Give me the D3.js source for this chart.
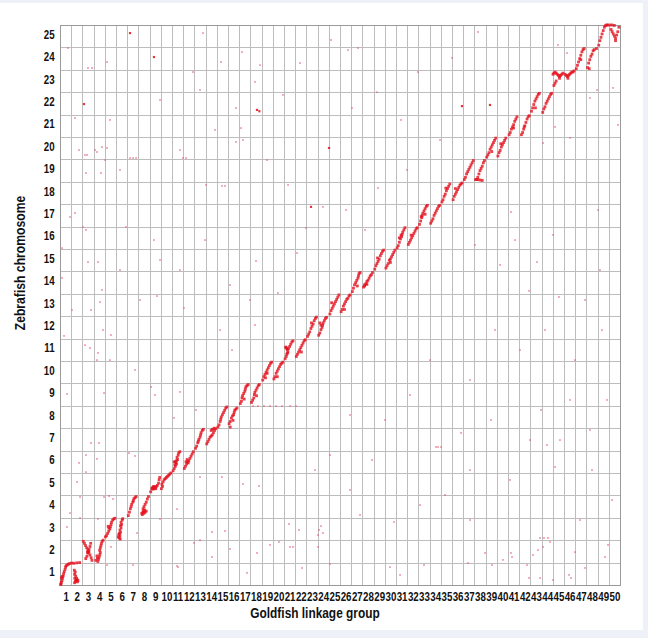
<!DOCTYPE html>
<html><head><meta charset="utf-8">
<script src="https://cdn.jsdelivr.net/npm/d3@7"></script>
<style>
html,body{margin:0;padding:0;background:#eef1f8;}
svg{display:block}
</style></head><body>
<svg id="chart" width="648" height="638"></svg>
<script>
// Goldfish linkage groups (x) and zebrafish chromosomes (y)
const xTickLabels = ["1","2","3","4","5","6","7","8","9","10","11","12","13","14","15","16","17","18","19","20","21","22","23","24","25","26","27","28","29","30","31","32","33","34","35","36","37","38","39","40","41","42","43","44","45","46","47","48","49","50"];
const yTickLabels = ["1","2","3","4","5","6","7","8","9","10","11","12","13","14","15","16","17","18","19","20","21","22","23","24","25"];
const xTitle = "Goldfish linkage group";
const yTitle = "Zebrafish chromosome";

// Syntenic markers: [linkage group, chromosome, [[position along LG, position along chromosome], ...]]
const syntenyDots = [
 [1,1,[[.05,.02],[.1,.06],[.12,.12],[.18,.2],[.22,.3],[.28,.4],[.32,.5],[.38,.6],[.45,.7],[.5,.8],[.55,.86],[.65,.9],[.75,.93],[.88,.96],[.12,.32],[.2,.38]]],
 [2,1,[[.05,.98],[.25,.97],[.5,.99],[.75,1.0],[.3,.1],[.38,.16],[.42,.22],[.32,.3],[.48,.3],[.4,.4],[.3,.48],[.36,.58],[.28,.66],[.52,.24],[.56,.14],[.6,.2]]],
 [3,2,[[.08,.95],[.18,.86],[.28,.76],[.38,.66],[.48,.56],[.58,.46],[.68,.34],[.78,.22],[.85,.1],[.3,.18],[.4,.28],[.5,.42],[.6,.6],[.68,.72],[.74,.86],[.55,.5],[.45,.46]]],
 [4,2,[[.38,.05],[.44,.15],[.5,.25],[.55,.35],[.6,.45],[.54,.55],[.6,.65],[.65,.75],[.7,.85],[.76,.95],[.3,.3],[.34,.2],[.85,1.0],[.2,.1]]],
 [5,3,[[.05,.15],[.15,.2],[.25,.3],[.35,.4],[.45,.5],[.5,.6],[.56,.7],[.6,.8],[.7,.9],[.8,.95],[.3,.62],[.36,.55],[.9,.98]]],
 [6,3,[[.3,.1],[.35,.2],[.3,.3],[.4,.35],[.35,.45],[.45,.55],[.4,.65],[.5,.7],[.45,.8],[.55,.9],[.6,.96],[.25,.25],[.2,.14],[.38,.05]]],
 [7,4,[[.1,.1],[.2,.25],[.28,.4],[.35,.5],[.4,.6],[.5,.7],[.55,.76],[.6,.85],[.7,.9],[.8,.95]]],
 [8,4,[[.3,.2],[.4,.25],[.5,.2],[.6,.25],[.45,.3],[.55,.35],[.7,.3],[.35,.14],[.42,.4],[.5,.5],[.6,.6],[.7,.7],[.8,.84],[.9,.95]]],
 [9,5,[[.2,.3],[.3,.35],[.4,.3],[.5,.35],[.6,.4],[.35,.4],[.45,.38],[.3,.28],[.55,.3],[.7,.45],[.8,.55],[.85,.7],[.9,.8],[.1,.16],[.25,.33]]],
 [10,5,[[.05,.3],[.15,.4],[.1,.5],[.2,.6],[.3,.7],[.4,.75],[.5,.8],[.6,.85],[.7,.9],[.8,.95],[.9,1.0]]],
 [11,6,[[.1,.1],[.2,.2],[.3,.3],[.35,.45],[.4,.55],[.5,.6],[.45,.7],[.55,.8],[.6,.9],[.7,.95],[.25,.36],[.3,.5],[.4,.4],[.2,.5]]],
 [12,6,[[.1,.2],[.2,.3],[.3,.4],[.4,.5],[.5,.55],[.6,.65],[.7,.75],[.8,.85],[.9,.95],[.35,.6],[.45,.45],[.25,.5]]],
 [13,7,[[.1,.1],[.2,.2],[.3,.35],[.4,.5],[.5,.6],[.55,.7],[.6,.8],[.7,.9],[.8,.95],[.35,.42]]],
 [14,7,[[.1,.3],[.2,.4],[.3,.5],[.4,.6],[.5,.65],[.6,.7],[.7,.8],[.8,.9],[.9,.98],[.6,.95],[.5,.9],[.75,1.0]]],
 [15,8,[[.1,.05],[.2,.15],[.3,.3],[.35,.4],[.4,.5],[.5,.6],[.6,.7],[.7,.8],[.8,.9],[.9,.95]]],
 [16,8,[[.1,.2],[.2,.3],[.3,.45],[.4,.55],[.5,.6],[.55,.7],[.6,.8],[.7,.85],[.8,.9],[.2,.05],[.45,.35]]],
 [17,9,[[.1,.1],[.2,.2],[.25,.35],[.3,.45],[.4,.55],[.5,.65],[.55,.75],[.6,.85],[.7,.9],[.8,.95],[.45,.3]]],
 [18,9,[[.1,.15],[.2,.25],[.3,.35],[.35,.5],[.4,.6],[.5,.7],[.6,.8],[.7,.9],[.8,.95],[.55,.45]]],
 [19,10,[[.1,.15],[.2,.3],[.3,.4],[.4,.5],[.5,.6],[.6,.7],[.7,.8],[.8,.9],[.5,.45],[.35,.25],[.9,.95]]],
 [20,10,[[.1,.2],[.2,.3],[.3,.45],[.4,.55],[.5,.65],[.6,.75],[.7,.85],[.8,.9],[.9,.95],[.4,.3]]],
 [21,11,[[.1,.1],[.2,.2],[.25,.3],[.3,.35],[.35,.4],[.3,.5],[.4,.55],[.5,.65],[.6,.75],[.7,.85],[.8,.9],[.2,.6],[.25,.55],[.15,.62]]],
 [22,11,[[.1,.2],[.2,.3],[.3,.4],[.4,.5],[.5,.6],[.6,.7],[.7,.8],[.8,.9],[.9,.95],[.55,.4]]],
 [23,12,[[.1,.1],[.2,.2],[.3,.3],[.4,.45],[.5,.55],[.6,.65],[.7,.8],[.8,.9],[.45,.7],[.9,.96]]],
 [24,12,[[.1,.15],[.2,.25],[.3,.4],[.4,.5],[.45,.6],[.5,.7],[.6,.8],[.7,.9],[.8,.95],[.3,.6],[.2,.7]]],
 [25,13,[[.1,.1],[.2,.25],[.3,.35],[.4,.45],[.5,.55],[.6,.65],[.7,.75],[.8,.85],[.9,.95],[.25,.6]]],
 [26,13,[[.1,.2],[.2,.3],[.3,.45],[.4,.55],[.5,.65],[.6,.75],[.7,.8],[.8,.9],[.9,.95],[.4,.3]]],
 [27,14,[[.1,.1],[.2,.25],[.3,.4],[.4,.5],[.5,.6],[.6,.7],[.65,.8],[.7,.9],[.8,.95],[.55,.35]]],
 [28,14,[[.1,.3],[.2,.35],[.3,.45],[.4,.55],[.5,.6],[.6,.7],[.7,.8],[.8,.85],[.9,.95],[.2,.4],[.4,.42]]],
 [29,15,[[.1,.1],[.2,.25],[.3,.35],[.4,.45],[.5,.55],[.6,.7],[.7,.8],[.8,.9],[.9,.95],[.35,.6]]],
 [30,15,[[.1,.15],[.2,.25],[.3,.35],[.4,.5],[.5,.55],[.6,.65],[.7,.75],[.8,.85],[.9,.95],[.5,.4]]],
 [31,16,[[.1,.05],[.2,.15],[.3,.3],[.4,.45],[.5,.55],[.55,.65],[.6,.75],[.7,.85],[.8,.95],[.3,.5],[.45,.62]]],
 [32,16,[[.1,.2],[.2,.3],[.3,.4],[.4,.5],[.5,.6],[.6,.7],[.7,.8],[.8,.9],[.9,.95],[.35,.62]]],
 [33,17,[[.1,.1],[.2,.25],[.3,.4],[.35,.5],[.4,.6],[.5,.7],[.6,.8],[.7,.9],[.8,.95],[.6,.55],[.25,.45]]],
 [34,17,[[.1,.15],[.2,.25],[.3,.35],[.4,.5],[.5,.6],[.6,.7],[.7,.8],[.8,.9],[.9,.95]]],
 [35,18,[[.1,.1],[.2,.2],[.3,.35],[.4,.45],[.5,.6],[.6,.7],[.7,.8],[.8,.9],[.45,.72]]],
 [36,18,[[.1,.2],[.2,.35],[.3,.45],[.4,.55],[.5,.65],[.6,.75],[.7,.85],[.8,.9],[.9,.95],[.3,.7]]],
 [37,19,[[.1,.1],[.2,.2],[.3,.35],[.4,.45],[.5,.55],[.6,.65],[.7,.75],[.8,.85],[.9,.95]]],
 [38,19,[[.1,.1],[.2,.1],[.3,.2],[.4,.35],[.5,.5],[.6,.6],[.7,.7],[.8,.85],[.9,.95],[.3,.1],[.5,.08],[.7,.06]]],
 [39,20,[[.1,.1],[.2,.2],[.3,.3],[.4,.45],[.5,.55],[.6,.65],[.7,.75],[.8,.85],[.9,.95],[.55,.35]]],
 [40,20,[[.1,.15],[.2,.3],[.3,.4],[.4,.55],[.5,.65],[.6,.75],[.7,.85],[.8,.95],[.35,.7]]],
 [41,21,[[.1,.1],[.2,.2],[.3,.35],[.4,.45],[.5,.55],[.6,.7],[.7,.8],[.8,.9],[.5,.4]]],
 [42,21,[[.2,.1],[.3,.2],[.4,.35],[.5,.5],[.6,.65],[.7,.8],[.8,.9],[.9,.95],[.45,.45]]],
 [43,22,[[.1,.15],[.2,.3],[.3,.45],[.4,.6],[.5,.7],[.6,.8],[.7,.9],[.8,.95],[.45,.3]]],
 [44,22,[[.1,.1],[.2,.25],[.3,.35],[.4,.5],[.5,.6],[.6,.7],[.7,.8],[.8,.9],[.9,.95]]],
 [45,23,[[.02,.8],[.1,.85],[.2,.9],[.3,.85],[.4,.8],[.5,.75],[.6,.7],[.7,.75],[.8,.8],[.9,.85],[.2,.4],[.3,.5],[.1,.3],[.6,.62]]],
 [46,23,[[.1,.8],[.2,.75],[.3,.7],[.4,.75],[.5,.8],[.6,.85],[.7,.9],[.8,.9],[.9,.95],[.35,.62]]],
 [47,24,[[.1,.05],[.2,.2],[.3,.35],[.4,.5],[.5,.65],[.6,.8],[.7,.9],[.8,.95],[.5,.45]]],
 [48,24,[[.1,.1],[.2,.3],[.3,.45],[.4,.6],[.5,.7],[.6,.85],[.7,.9],[.9,.95],[.25,.05]]],
 [49,25,[[.1,.1],[.2,.3],[.3,.45],[.4,.6],[.5,.75],[.6,.9],[.7,.97],[.8,1.0],[.9,1.0]]],
 [50,25,[[.1,1.0],[.3,1.0],[.5,.98],[.2,.8],[.3,.7],[.4,.6],[.5,.5],[.6,.4],[.7,.55],[.8,.7],[.9,.9],[.6,.3]]]
];

// Scattered (non-syntenic) markers: [position on goldfish axis, position on zebrafish axis]
const scatterDots = [
 [.63,8.53],[.36,11.12],[4.02,18.97],[3.13,19.42],[16.34,19.87],[15.71,21.29],[26.61,23.97],[13.04,17.86],
 [17.5,14.46],[15.18,13.39],[8.66,12.9],[40.27,16.65],[41.88,13.13],[42.59,14.42],[44.55,12.86],[35.8,6.79],
 [33.57,6.16],[33.75,6.16],[34.02,6.16],[42.86,2.1],[43.21,2.1],[43.57,2.1],[40.36,1.25],[42.95,7.81],
 [43.48,6.25],[44.2,5.27],[46.88,.76],[45.63,.31],[42.86,.31],[38.48,7.37],[29.82,2.81],
 [23.13,2.46],[23.3,2.63],[23.48,2.32],[23.04,2.23],[20.45,2.72],[21.34,2.46],[14.73,2.41],[12.5,2.0],
 [8.93,2.95],[16.34,4.51],[17.77,4.42],[10.71,8.62],[8.13,8.84],[4.55,11.16],[3.3,10.04],[2.41,19.2],
 [6.25,19.06],[6.52,19.06],[6.79,19.06],[10.98,19.06],[11.25,19.06],[14.46,17.81],[14.73,17.81],
 [17.23,7.99],[17.68,7.99],[18.21,7.99],[18.75,7.99],[19.29,7.99],[19.82,7.99],[20.54,7.99],[21.07,7.99],
 [.71,23.97],[2.5,23.08],[2.86,23.08],[4.2,23.35],[1.34,20.85],[1.7,19.42],[2.23,19.2],[3.3,19.33],
 [3.75,19.55],[4.2,19.51],[2.32,18.39],[3.66,18.39],[.89,16.43],[1.34,16.61],[2.05,15.98],[2.32,15.85],
 [.18,15.04],[2.5,14.42],[3.39,14.42],[.18,13.71],[3.75,13.17],[3.57,12.63],[1.07,12.28],[2.77,12.28],
 [2.23,10.71],[2.68,10.58],[3.39,10.36],[2.77,6.34],[3.48,6.34],[2.32,5.8],[1.7,5.45],[2.32,5.04],
 [3.3,5.63],[1.52,4.6],[1.79,3.93],[.89,3.21],[.63,2.59],[1.79,2.99],[6.16,5.89],[6.7,5.76],[3.93,3.93],
 [4.38,3.97],[4.73,3.84],[3.39,2.95],[6.88,2.32],[4.55,1.7],[4.2,.89],[6.52,.89],[10.45,3.39],[10.45,.85],
 [12.5,4.82],[14.46,4.82],[13.57,2.37],[13.57,1.25],[11.96,1.88],[44.46,24.11],[45.27,23.75],[43.13,19.73],
 [44.2,20.45],[45.54,19.96],[47.32,21.74],[47.95,22.1],[49.38,22.19],[49.82,20.54],
 [24.11,.94],[29.46,.8],[30.36,.45],[32.5,.89],[36.43,.98],[37.95,1.43],[38.57,.89],[39.55,1.12],
 [40.27,1.43],[41.88,.31],[44.02,.22],[45.45,.45],[45.98,1.47],[48.66,1.25],[48.93,1.79],[41.7,.89],
 [42.23,1.34],[42.68,1.56],[43.13,1.7],[43.75,1.92],[10.54,.8],[15.18,1.61],[16.7,.54],[17.59,1.43],
 [19.55,1.92],[20.54,1.7],[20.8,1.7],[21.61,.76],[23.04,1.7],
 [10.18,7.46],[12.14,7.81],[8.48,8.48],[6.7,9.6],[3.93,8.57],[3.84,11.38],[4.46,10.04],[5.89,15.98],
 [8.39,15.4],[8.93,14.51],[11.07,12.37],[14.29,11.38],[15.36,10.49],[17.41,11.61],[19.46,13.04],
 [21.16,14.82],[21.96,15.94],[23.48,16.88],[20.36,17.86],[18.48,18.97],[15.71,19.78],[16.16,20.4],
 [12.5,22.1],[14.38,23.35],[12.77,24.64],[16.25,23.79],[19.91,21.88],[21.43,23.3],[24.2,24.33],
 [25.71,23.88],[26.07,21.29],[28.3,22.0],[30.45,20.76],[31.96,22.9],[35.0,23.53],[37.32,24.69],
 [33.93,19.87],[30.98,18.53],[28.39,17.72],[25.54,16.74],[27.23,15.85],[37.05,15.18],[39.29,14.29],
 [40.63,15.4],[44.02,15.63],[48.04,16.74],[48.21,14.06],[46.88,12.72],[48.39,11.38],[45.98,10.04],
 [43.3,11.38],[41.07,10.49],[38.84,11.38],[36.61,9.15],[33.04,10.04],[31.25,8.48],[29.02,7.37],
 [25.89,7.59],[24.11,5.8],[22.77,5.13],[25.89,4.24],[27.86,5.58],[34.38,4.02],[36.61,5.13],[40.18,4.69],
 [44.64,6.47],[47.5,5.13],[49.29,3.79],[46.43,2.9],[36.61,2.9],[32.14,3.57],[26.79,3.13],[18.75,1.79],
 [48.84,8.26],[47.32,6.92],[45.54,8.26],[41.96,6.47],[16.96,12.72],[7.14,12.72],[5.36,14.06],[10.71,14.06],
 [12.95,15.4],[5.36,18.53],[10.71,19.42],[13.84,20.31],[8.93,21.65],[4.46,20.76],[17.86,23.21],
 [11.88,22.9],[17.41,22.46]
];

// Isolated but strongly supported markers
const strongDots = [[2.14,21.47],[8.39,23.57],[17.59,21.21],[17.8,21.15],[24.02,19.51],[38.39,21.43],[35.89,21.38],[22.41,16.88],[6.25,24.64]];

const svg = d3.select("#chart");
const plot = {left: 60, right: 620, top: 25, bottom: 585};

svg.append("rect").attr("x",0).attr("y",3).attr("width",643).attr("height",627).attr("fill","#ffffff");

const x = d3.scaleLinear().domain([0, xTickLabels.length]).range([plot.left, plot.right]);
const y = d3.scaleLinear().domain([0, yTickLabels.length]).range([plot.bottom, plot.top]);

// grid via axes
const xGrid = d3.axisBottom(x).tickValues(d3.range(1, xTickLabels.length)).tickSize(-(plot.bottom-plot.top)).tickFormat("");
svg.append("g").attr("transform",`translate(0,${plot.bottom})`).call(xGrid)
  .call(g=>g.select(".domain").remove())
  .call(g=>g.selectAll("line").attr("stroke","#bdbdbd").attr("stroke-width",1).attr("shape-rendering","crispEdges"));
const yGrid = d3.axisLeft(y).tickValues(d3.range(1, yTickLabels.length)).tickSize(-(plot.right-plot.left)).tickFormat("");
svg.append("g").attr("transform",`translate(${plot.left},0)`).call(yGrid)
  .call(g=>g.select(".domain").remove())
  .call(g=>g.selectAll("line").attr("stroke","#bdbdbd").attr("stroke-width",1).attr("shape-rendering","crispEdges"));

svg.append("rect").attr("x",plot.left).attr("y",plot.top)
  .attr("width",plot.right-plot.left).attr("height",plot.bottom-plot.top)
  .attr("fill","none").attr("stroke","#9a9a9a").attr("stroke-width",1).attr("shape-rendering","crispEdges");

const font = "'Liberation Sans',Arial,Helvetica,sans-serif";

// tick labels via axes (condensed horizontally like the reference)
const xAxis = d3.axisBottom(x).tickValues(xTickLabels.map((d,i)=>i+0.5)).tickSize(0).tickPadding(7)
  .tickFormat((d,i)=>xTickLabels[i]);
svg.append("g").attr("transform",`translate(0,${plot.bottom})`).call(xAxis)
  .call(g=>g.select(".domain").remove())
  .call(g=>g.selectAll("text").attr("font-family",font).attr("font-weight","bold").attr("font-size",12.5)
     .attr("fill","#111").attr("transform","scale(0.78,1)"));
const yAxis = d3.axisLeft(y).tickValues(yTickLabels.map((d,i)=>i+0.5)).tickSize(0).tickPadding(7)
  .tickFormat((d,i)=>yTickLabels[i]);
svg.append("g").attr("transform",`translate(${plot.left},-2)`).call(yAxis)
  .call(g=>g.select(".domain").remove())
  .call(g=>g.selectAll("text").attr("font-family",font).attr("font-weight","bold").attr("font-size",12.5)
     .attr("fill","#111").attr("transform","scale(0.78,1)"));

// titles
svg.append("text").attr("transform",`translate(315,618) scale(0.82,1)`).attr("text-anchor","middle")
  .attr("font-family",font).attr("font-weight","bold").attr("font-size",14.5).attr("fill","#111").text(xTitle);
svg.append("text").attr("transform",`translate(25,263) rotate(-90) scale(0.84,1)`).attr("text-anchor","middle")
  .attr("font-family",font).attr("font-weight","bold").attr("font-size",14.5).attr("fill","#111").text(yTitle);

// scattered markers
svg.append("g").selectAll("rect").data(scatterDots).join("rect")
  .attr("x",d=>x(d[0])-0.9).attr("y",d=>y(d[1])-0.9).attr("width",1.8).attr("height",1.8)
  .attr("fill","#e0506a").attr("opacity",0.55);

// syntenic markers
const flat = [];
syntenyDots.forEach(([lg, chr, pts]) => pts.forEach(([p, q]) => flat.push([lg-1+p, chr-1+q])));
svg.append("g").selectAll("rect").data(flat).join("rect")
  .attr("x",d=>x(d[0])-1.4).attr("y",d=>y(d[1])-1.4).attr("width",2.8).attr("height",2.8)
  .attr("fill","#e3121e").attr("opacity",0.8);

svg.append("g").selectAll("rect").data(strongDots).join("rect")
  .attr("x",d=>x(d[0])-1.1).attr("y",d=>y(d[1])-1.1).attr("width",2.2).attr("height",2.2)
  .attr("fill","#e3121e").attr("opacity",0.85);
</script>
</body></html>
